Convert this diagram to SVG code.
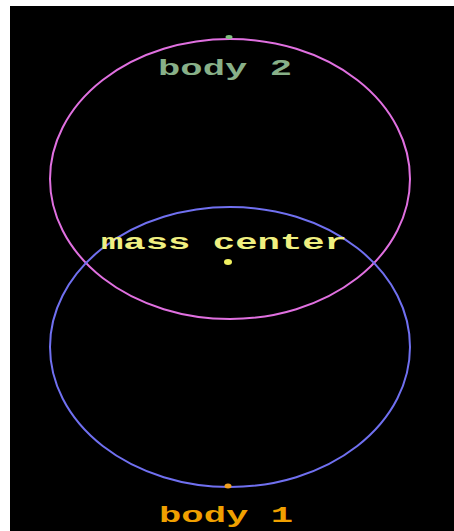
<svg xmlns="http://www.w3.org/2000/svg" width="454" height="531" viewBox="0 0 454 531">
<style>
.lbl{font-family:"Liberation Mono","DejaVu Sans Mono",monospace;font-weight:bold;font-size:22px}
.orb{fill:none;stroke-width:2}
</style>
<rect x="0" y="0" width="454" height="531" fill="#ffffff"/>
<rect x="10" y="6" width="444" height="525" fill="#000000"/>
<g id="connectors"></g>
<g id="body2">
<ellipse class="orb" cx="230" cy="179" rx="180" ry="140" stroke="#e070e0"/>
<ellipse cx="229" cy="37" rx="3.5" ry="2" fill="#80c080"/>
<text class="lbl" x="158" y="75" textLength="134" lengthAdjust="spacingAndGlyphs" fill="#88b088">body 2</text>
</g>
<g id="body1">
<ellipse class="orb" cx="230" cy="347" rx="180" ry="140" stroke="#7070f0"/>
<ellipse cx="228" cy="486" rx="3.5" ry="2.5" fill="#f0a020"/>
<text class="lbl" x="159" y="522" textLength="134" lengthAdjust="spacingAndGlyphs" fill="#f0a000">body 1</text>
</g>
<g id="masscenter">
<ellipse cx="228" cy="262" rx="4" ry="3" fill="#f0f060"/>
<text class="lbl" x="101" y="249" textLength="246" lengthAdjust="spacingAndGlyphs" fill="#f0f080">mass center</text>
</g>
</svg>
